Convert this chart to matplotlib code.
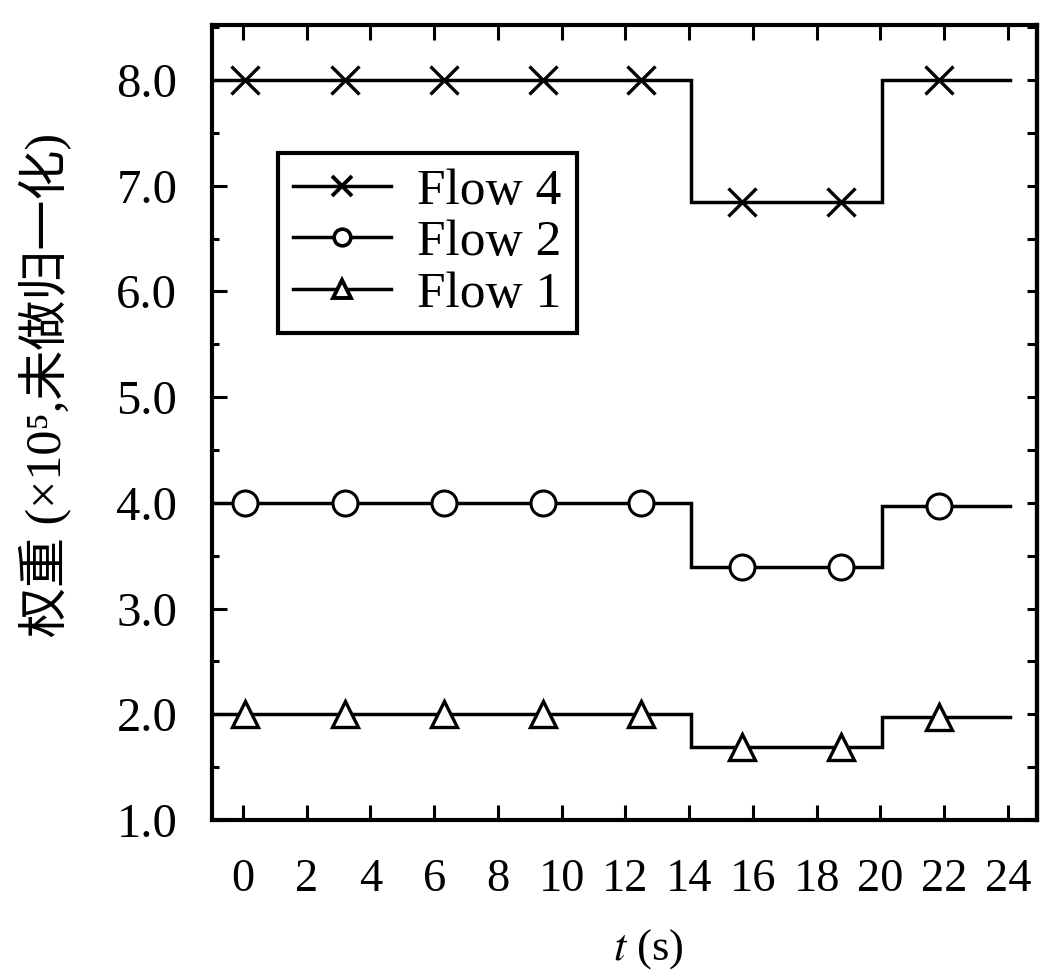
import matplotlib
matplotlib.use("Agg")
import matplotlib.pyplot as plt
from matplotlib.lines import Line2D
from matplotlib.ticker import MultipleLocator

plt.rcParams["font.family"] = ["Liberation Serif", "Noto Sans CJK SC", "DejaVu Serif"]
plt.rcParams["mathtext.fontset"] = "stix"

# ---------------- data ----------------
step_edges = [-0.97, 14.05, 20.05, 24.05]   # level start times, last = end of line
flow4_levels = [8.0, 6.85, 8.0]
flow2_levels = [4.0, 3.39, 3.97]
flow1_levels = [2.0, 1.69, 1.97]

marker_t = [0.05, 3.2, 6.3, 9.4, 12.5, 15.65, 18.75, 21.85]
flow4_marks = [8.0, 8.0, 8.0, 8.0, 8.0, 6.85, 6.85, 8.0]
flow2_marks = [4.0, 4.0, 4.0, 4.0, 4.0, 3.39, 3.39, 3.97]
flow1_marks = [2.0, 2.0, 2.0, 2.0, 2.0, 1.69, 1.69, 1.97]

x_ticks = [0, 2, 4, 6, 8, 10, 12, 14, 16, 18, 20, 22, 24]
y_ticks = [1.0, 2.0, 3.0, 4.0, 5.0, 6.0, 7.0, 8.0]
y_tick_labels = ["1.0", "2.0", "3.0", "4.0", "5.0", "6.0", "7.0", "8.0"]
legend_labels = ["Flow 4", "Flow 2", "Flow 1"]

# ---------------- figure ----------------
W, H = 1042, 971
fig = plt.figure(figsize=(W / 100, H / 100), dpi=100)
ax = fig.add_axes([212 / W, 1 - 820 / H, (1037 - 212) / W, (820 - 25) / H])

lw = 2.5
series = [
    (flow4_levels, flow4_marks, dict(marker="x", mfc="black"), 20, 14, 2.4),
    (flow2_levels, flow2_marks, dict(marker="o", mfc="white"), 18, 12, 2.2),
    (flow1_levels, flow1_marks, dict(marker="^", mfc="white"), 19, 13, 2.4),
]
handles = []
for levels, marks, mk, ms_plot, ms_leg, mew in series:
    ax.plot(step_edges, levels + [levels[-1]], drawstyle="steps-post",
            color="black", lw=lw, solid_joinstyle="miter", zorder=2)
    ax.plot(marker_t, marks, linestyle="none", color="black", mec="black",
            ms=ms_plot, mew=mew, zorder=3, clip_on=False, **mk)
    handles.append(Line2D([], [], color="black", lw=lw, mec="black",
                          ms=ms_leg, mew=mew + 0.4, **mk))

ax.set_xlim(step_edges[0], 24.91)
ax.set_ylim(1.0, 8.52)
ax.set_xticks(x_ticks)
ax.set_xticklabels([str(v) for v in x_ticks])
ax.set_yticks(y_ticks)
ax.set_yticklabels(y_tick_labels)
ax.yaxis.set_minor_locator(MultipleLocator(0.5))

for s in ax.spines.values():
    s.set_linewidth(3.0)

ax.tick_params(axis="x", which="major", direction="in", length=11, width=2.2,
               top=True, bottom=True, labelsize=33.5, pad=28)
ax.tick_params(axis="y", which="major", direction="in", length=11, width=2.2,
               left=True, right=False, labelsize=35, pad=25)
ax.tick_params(axis="y", which="minor", direction="in", length=5, width=2.2,
               left=True, right=False)

sec = ax.secondary_yaxis("right")
sec.set_yticks(y_ticks)
sec.yaxis.set_minor_locator(MultipleLocator(0.5))
sec.tick_params(which="both", direction="in", length=7, width=2.2, labelright=False)
sec.spines["right"].set_linewidth(3.0)

fig.text(648 / W, 1 - 949 / H, "$t$ (s)", fontsize=32, ha="center", va="center")
fig.text(45 / W, 1 - 385 / H, "权重 (×10⁵,未做归一化)", fontsize=36,
         rotation=90, ha="center", va="center")

leg = ax.legend(handles, legend_labels, loc="upper left",
                bbox_to_anchor=(0.08, 0.839), fontsize=37, frameon=True,
                fancybox=False, edgecolor="black", framealpha=1,
                handlelength=1.9, handletextpad=0.5, labelspacing=0.08,
                borderpad=0.3, borderaxespad=0)
leg.get_frame().set_linewidth(3.0)

fig.savefig("out.png", dpi=100)
